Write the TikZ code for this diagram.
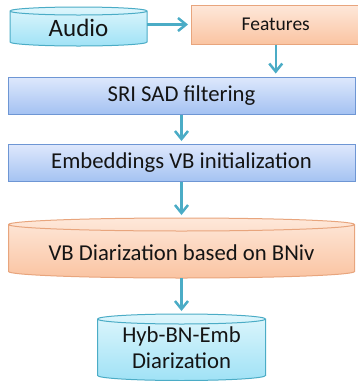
\documentclass[tikz,border=0pt]{standalone}
\usepackage{fontspec}
\setmainfont{Carlito}
\usetikzlibrary{positioning, arrows.meta, calc, backgrounds}

\definecolor{cyanline}{RGB}{75,172,198}
\definecolor{cyantop}{RGB}{222,246,252}
\definecolor{cyanbot}{RGB}{160,226,246}
\definecolor{orangeline}{RGB}{232,165,125}
\definecolor{orangetop}{RGB}{254,232,218}
\definecolor{orangebot}{RGB}{250,196,162}
\definecolor{blueline}{RGB}{110,150,212}
\definecolor{bluetop}{RGB}{222,232,252}
\definecolor{bluebot}{RGB}{164,194,242}
\definecolor{textcol}{RGB}{20,20,20}

% cylinder outline round a node: node, end radius, line, top fill, bottom fill
\newcommand{\drawcyl}[5]{%
	\path[draw=#3, line width=1pt, top color=#4, bottom color=#5]
		let \p1=(#1.north west), \p2=(#1.south east), \n1={(\x2-\x1)/2} in
		(\x1,\y1-#2) -- (\x1,\y2+#2)
		arc[start angle=180, end angle=360, x radius=\n1, y radius=#2pt]
		-- (\x2,\y1-#2)
		arc[start angle=0, end angle=180, x radius=\n1, y radius=#2pt] -- cycle
		(\x1,\y1-#2) arc[start angle=180, end angle=360, x radius=\n1, y radius=#2pt];
}

\begin{document}
\begin{tikzpicture}[x=1pt, y=1pt,
	procbox/.style={rectangle, draw=blueline, line width=1pt, top color=bluetop, bottom color=bluebot, inner sep=0pt, minimum width=347pt, minimum height=37pt, text=textcol, font=\fontsize{22.7}{26}\selectfont},
	featbox/.style={rectangle, draw=orangeline, line width=1pt, top color=orangetop, bottom color=orangebot, inner sep=0pt, minimum width=168.5pt, minimum height=39pt, text=textcol, font=\fontsize{19.5}{22}\selectfont},
	cylnode/.style={rectangle, inner sep=0pt, outer sep=0pt, text=textcol, font=\fontsize{22.7}{26}\selectfont},
	flow/.style={->, draw=cyanline, line width=2.5pt, shorten >=3pt},
	>={Straight Barb[length=8pt, width=13pt]}
]
\path[use as bounding box, clip] (0,0) rectangle (358,-381);

\node[cylnode, minimum width=137pt, minimum height=39pt, text height=20.5pt, text depth=0pt, font=\fontsize{25}{30}\selectfont] (audio) at (78.5,-26.5) {Audio};
\node[featbox, anchor=west] (feat) at (191,-24.5) {Features};
\node[procbox] (sad) at (181.5,-95.5) {SRI SAD filtering};
\node[procbox, below=29.5pt of sad] (emb) {Embeddings VB initialization};
\node[cylnode, below=36pt of emb, minimum width=346pt, minimum height=60pt, text height=24pt, text depth=0pt] (vbd) {VB Diarization based on BNiv};
\node[cylnode, below=36pt of vbd, minimum width=168pt, minimum height=66.5pt, align=center] (hyb) {Hyb-BN-Emb\\Diarization};

\begin{scope}[on background layer]
	\drawcyl{audio}{4}{cyanline}{cyantop}{cyanbot}
	\drawcyl{vbd}{6.5}{orangeline}{orangetop}{orangebot}
	\drawcyl{hyb}{5}{cyanline}{cyantop}{cyanbot}
\end{scope}

\draw[flow] (feat -| audio.east) -- (feat.west);
\draw[flow] (feat) -- (feat |- sad.north);
\foreach \i/\j in {sad/emb, emb/vbd, vbd/hyb}
	\draw[flow] (\i) -- (\j);

\end{tikzpicture}
\end{document}
